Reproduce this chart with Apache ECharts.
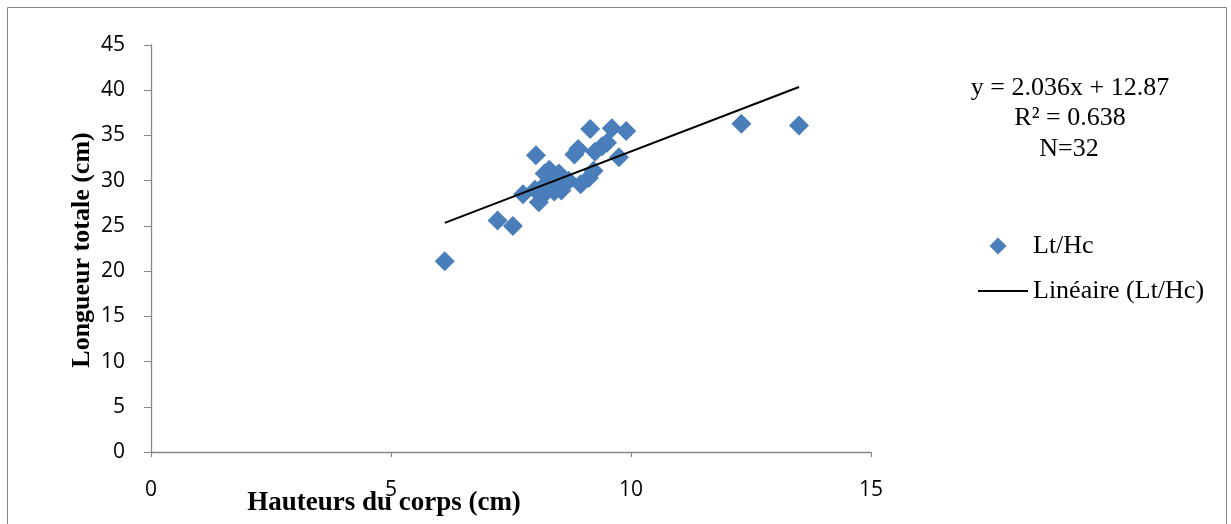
<!DOCTYPE html>
<html>
<head>
<meta charset="utf-8">
<script src="https://cdn.jsdelivr.net/npm/echarts@6/dist/echarts.min.js"></script>
<style>html,body{margin:0;padding:0;background:#fff}#c{width:1231px;height:524px}</style>
</head>
<body>
<div id="c"></div>
<script>
// Hauteurs du corps (cm)
var hauteurs = [6.12, 7.22, 7.54, 7.75, 8.02, 8.08, 8.00, 8.15, 8.25, 8.30, 8.35, 8.40, 8.45, 8.50, 8.55, 8.20,
                8.60, 8.82, 8.90, 8.95, 9.12, 9.22, 9.15, 9.25, 9.40, 9.50, 9.60, 9.75, 9.90, 12.30, 13.50, 8.70];
// Longueur totale (cm)
var longueurs = [21.1, 25.6, 25.0, 28.5, 32.8, 27.6, 29.0, 28.3, 29.8, 31.2, 30.3, 28.8, 29.5, 30.8, 28.9, 30.8,
                 30.2, 32.9, 33.5, 29.6, 30.3, 31.1, 35.7, 33.2, 33.8, 34.2, 35.8, 32.6, 35.5, 36.3, 36.1, 30.0];
var slope = 2.036, intercept = 12.87;
var equationLines = ['y = 2.036x + 12.87', 'R² = 0.638', 'N=32'];
var xTicks = [0, 5, 10, 15];
var yTicks = [0, 5, 10, 15, 20, 25, 30, 35, 40, 45];

var pts = hauteurs.map(function (x, i) { return [x, longueurs[i]]; });
var xmin = Math.min.apply(null, hauteurs), xmax = Math.max.apply(null, hauteurs);
var trend = [[xmin, slope * xmin + intercept], [xmax, slope * xmax + intercept]];

var chart = echarts.init(document.getElementById('c'), null, {renderer: 'canvas'});
var serif = '"Liberation Serif", "Times New Roman", serif';
var sans = '"Open Sans", "Noto Sans", sans-serif';
// diamond icon inside a 50x17 box (degenerate corner points keep the aspect)
var diamondIcon = 'path://M0,0L0,0M50,17L50,17M20,0L28.5,8.5L20,17L11.5,8.5Z';
chart.setOption({
  animation: false,
  grid: {left: 151, top: 45, width: 720, height: 407, containLabel: false},
  xAxis: {
    type: 'value', min: xTicks[0], max: xTicks[xTicks.length - 1], interval: 5,
    axisLine: {show: true, onZero: false, lineStyle: {color: '#868686', width: 1.3}},
    axisTick: {show: true, inside: false, length: 5, lineStyle: {color: '#868686'}},
    splitLine: {show: false},
    axisLabel: {margin: 28, color: '#000', fontSize: 21, fontFamily: sans}
  },
  yAxis: {
    type: 'value', min: yTicks[0], max: yTicks[yTicks.length - 1], interval: 5,
    axisLine: {show: true, lineStyle: {color: '#868686', width: 1.3}},
    axisTick: {show: true, inside: false, length: 7, lineStyle: {color: '#868686'}},
    splitLine: {show: false},
    axisLabel: {margin: 26, color: '#000', fontSize: 21, fontFamily: sans}
  },
  legend: {
    orient: 'vertical', left: 972, top: 228, itemWidth: 50, itemHeight: 17, itemGap: 19,
    textStyle: {fontFamily: serif, fontSize: 26, color: '#000', lineHeight: 26},
    data: [
      {name: 'Lt/Hc', icon: diamondIcon},
      {name: 'Linéaire (Lt/Hc)', itemStyle: {opacity: 0}}
    ]
  },
  graphic: [
    {type: 'rect', shape: {x: 7.5, y: 7.5, width: 1219, height: 530}, style: {fill: 'none', stroke: '#868686', lineWidth: 1}, silent: true, z: -1},
    {type: 'text', x: 1070, y: 88, style: {text: equationLines[0], font: '26px ' + serif, fill: '#000', align: 'center', verticalAlign: 'middle'}},
    {type: 'text', x: 1070, y: 118, style: {text: equationLines[1], font: '26px ' + serif, fill: '#000', align: 'center', verticalAlign: 'middle'}},
    {type: 'text', x: 1069, y: 149, style: {text: equationLines[2], font: '26px ' + serif, fill: '#000', align: 'center', verticalAlign: 'middle'}},
    {type: 'text', x: 82, y: 250, rotation: Math.PI / 2, style: {text: 'Longueur totale (cm)', font: 'bold 26px ' + serif, fill: '#000', align: 'center', verticalAlign: 'middle'}},
    {type: 'text', x: 384, y: 503, style: {text: 'Hauteurs du corps (cm)', font: 'bold 27px ' + serif, fill: '#000', align: 'center', verticalAlign: 'middle'}}
  ],
  series: [
    {name: 'Lt/Hc', type: 'scatter', data: pts, symbol: 'diamond', symbolSize: 20,
     itemStyle: {color: '#4a7ebb', opacity: 1}},
    {name: 'Linéaire (Lt/Hc)', type: 'line', data: trend, symbol: 'none', showSymbol: false,
     lineStyle: {color: '#000', width: 2}, itemStyle: {color: '#000'}, z: 3}
  ]
});
</script>
</body>
</html>
